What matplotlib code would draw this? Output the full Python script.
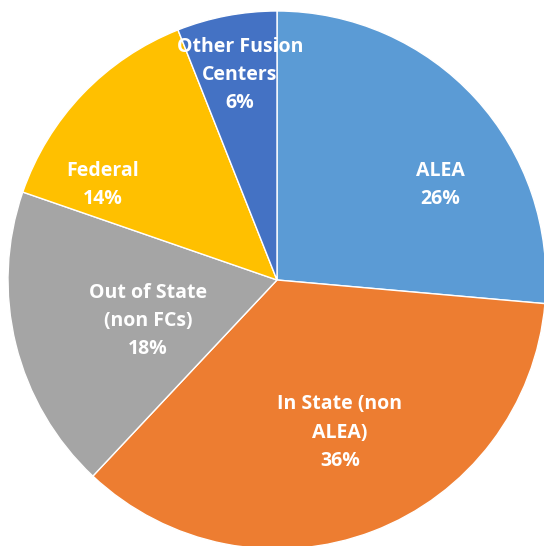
import matplotlib.pyplot as plt

categories = ['ALEA', 'In State (non\nALEA)', 'Out of State\n(non FCs)', 'Federal', 'Other Fusion\nCenters']
shares = [26.4, 35.6, 18.3, 13.7, 6.0]
colors = ['#5B9BD5', '#ED7D31', '#A5A5A5', '#FFC000', '#4472C4']

# label centres (in pie radius units), Excel "best fit" style placement
label_pos = [(0.606, 0.353), (0.234, -0.567), (-0.480, -0.152), (-0.647, 0.354), (-0.138, 0.762)]

fig = plt.figure(figsize=(5.44, 5.46), dpi=100)
ax = fig.add_axes([0, 0, 1, 1])

ax.pie(shares, colors=colors, startangle=90, counterclock=False, radius=1,
       wedgeprops=dict(edgecolor='white', linewidth=1))

for cat, val, (x, y) in zip(categories, shares, label_pos):
    ax.text(x, y, f'{cat}\n{round(val)}%', ha='center', va='center', color='white',
            fontsize=14, fontweight='bold', family='Open Sans', linespacing=1.55)

ax.set_xlim(-277 / 269, 267 / 269)
ax.set_ylim(-266 / 269, 280 / 269)
ax.set_aspect('equal')
ax.axis('off')

fig.savefig('out.png', dpi=100)
